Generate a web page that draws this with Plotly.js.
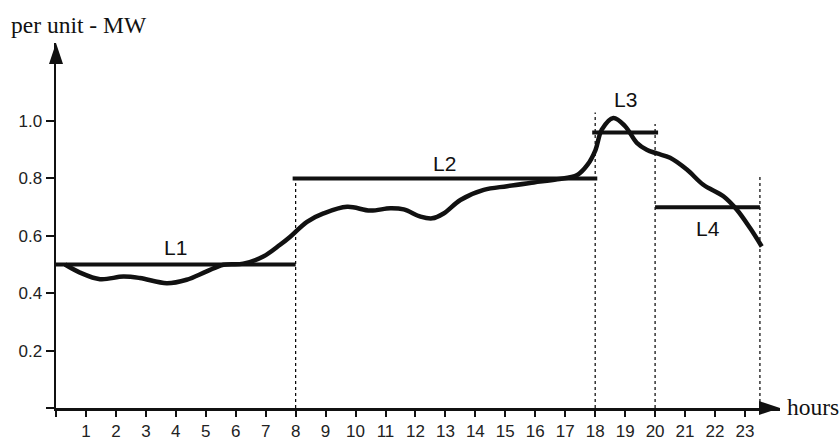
<!DOCTYPE html>
<html>
<head>
<meta charset="utf-8">
<script src="https://cdn.plot.ly/plotly-3.0.1.min.js"></script>
<style>html,body{margin:0;padding:0;background:#fff;}#chart{width:840px;height:441px;}</style>
</head>
<body>
<div id="chart"></div>
<script>
// Load curve (per unit)
var hours = [0.3, 0.8, 1.47, 2.25, 2.8, 3.7, 4.36, 5.03, 5.59, 6.25, 6.92, 7.48, 7.82, 8.38, 8.93, 9.72, 10.49, 11.16, 11.61, 12.17, 12.56, 12.94, 13.5, 14.28, 15.06, 15.95, 16.73, 17.4, 17.74, 18.01, 18.22, 18.61, 19.0, 19.39, 19.72, 20.06, 20.5, 21.06, 21.61, 22.28, 22.73, 23.17, 23.56];
var load = [0.50, 0.472, 0.449, 0.458, 0.453, 0.435, 0.447, 0.476, 0.499, 0.503, 0.528, 0.569, 0.597, 0.649, 0.678, 0.701, 0.688, 0.696, 0.692, 0.667, 0.661, 0.678, 0.725, 0.760, 0.773, 0.786, 0.797, 0.812, 0.847, 0.899, 0.970, 1.011, 0.982, 0.924, 0.900, 0.887, 0.872, 0.831, 0.778, 0.738, 0.691, 0.627, 0.563];

// Load levels
var levelNames = ['L1', 'L2', 'L3', 'L4'];
var levelStart = [0, 7.9, 17.9, 20.0];
var levelEnd = [8.0, 18.07, 20.1, 23.5];
var levelValue = [0.5, 0.8, 0.96, 0.7];

// Dotted boundaries
var boundaryHours = [8, 18, 20, 23.5];
var boundaryTops = [0.8, 1.03, 0.99, 0.81];

// Axis ticks
var xTickVals = [0,1,2,3,4,5,6,7,8,9,10,11,12,13,14,15,16,17,18,19,20,21,22,23];
var xTickText = ['','1','2','3','4','5','6','7','8','9','10','11','12','13','14','15','16','17','18','19','20','21','22','23'];
var yTickVals = [0, 0.2, 0.4, 0.6, 0.8, 1.0];
var yTickText = ['', '0.2', '0.4', '0.6', '0.8', '1.0'];

var yLabelTitle = 'per unit - MW';
var xLabelTitle = 'hours';

var traces = [];
boundaryHours.forEach(function (h, i) {
  traces.push({
    x: [h, h], y: [0, boundaryTops[i]], mode: 'lines', type: 'scatter',
    line: {color: '#000', width: 1.2, dash: 'dot'}, hoverinfo: 'skip', showlegend: false
  });
});
levelNames.forEach(function (n, i) {
  traces.push({
    x: [levelStart[i], levelEnd[i]], y: [levelValue[i], levelValue[i]], mode: 'lines', type: 'scatter',
    line: {color: '#111', width: 4}, hoverinfo: 'skip', showlegend: false
  });
});
traces.push({
  x: hours, y: load, mode: 'lines', type: 'scatter',
  line: {color: '#111', width: 4.5, shape: 'spline', smoothing: 1}, showlegend: false
});

var labelShift = [17, 15, 33, -21];
var annotations = levelNames.map(function (n, i) {
  return {
    x: (levelStart[i] + levelEnd[i]) / 2, y: levelValue[i], xref: 'x', yref: 'y',
    text: n, showarrow: false, yshift: labelShift[i], xanchor: 'center', yanchor: 'middle',
    font: {family: 'Liberation Sans, Arial, sans-serif', size: 21, color: '#111'}
  };
});
annotations.push({
  xref: 'paper', yref: 'paper', x: -0.065, y: 1.058, yshift: -3, xanchor: 'left', yanchor: 'middle',
  text: yLabelTitle, showarrow: false,
  font: {family: 'Liberation Serif, Times New Roman, serif', size: 23.5, color: '#111'}
});
annotations.push({
  xref: 'paper', yref: 'paper', x: 1.007, y: 0, yshift: 1, xanchor: 'left', yanchor: 'middle',
  text: xLabelTitle, showarrow: false,
  font: {family: 'Liberation Serif, Times New Roman, serif', size: 23.5, color: '#111'}
});

var layout = {
  width: 840, height: 441,
  margin: {l: 56, r: 60, t: 43, b: 33, pad: 0},
  paper_bgcolor: '#fff', plot_bgcolor: '#fff',
  xaxis: {
    range: [0, 24.17], showgrid: false, zeroline: false,
    showline: true, linecolor: '#111', linewidth: 2.5,
    tickmode: 'array', tickvals: xTickVals, ticktext: xTickText,
    ticks: 'outside', ticklen: 6, tickwidth: 2, tickcolor: '#111',
    tickfont: {family: 'Liberation Sans, Arial, sans-serif', size: 17, color: '#222'}
  },
  yaxis: {
    range: [0, 1.272], showgrid: false, zeroline: false,
    showline: true, linecolor: '#111', linewidth: 2.5,
    tickmode: 'array', tickvals: yTickVals, ticktext: yTickText,
    ticks: 'outside', ticklen: 8, tickwidth: 2, tickcolor: '#111',
    tickfont: {family: 'Liberation Sans, Arial, sans-serif', size: 17, color: '#222'}
  },
  shapes: [
    {type: 'path', xref: 'paper', yref: 'paper', xsizemode: 'pixel', ysizemode: 'pixel',
     xanchor: 1, yanchor: 0, path: 'M-21,-7 L0,0 L-21,7 Z', fillcolor: '#111', line: {width: 0}},
    {type: 'path', xref: 'paper', yref: 'paper', xsizemode: 'pixel', ysizemode: 'pixel',
     xanchor: 0, yanchor: 1, path: 'M-7,-21 L0,0 L7,-21 Z', fillcolor: '#111', line: {width: 0}}
  ],
  annotations: annotations,
  showlegend: false
};

Plotly.newPlot('chart', traces, layout, {displayModeBar: false, staticPlot: true});
</script>
</body>
</html>
